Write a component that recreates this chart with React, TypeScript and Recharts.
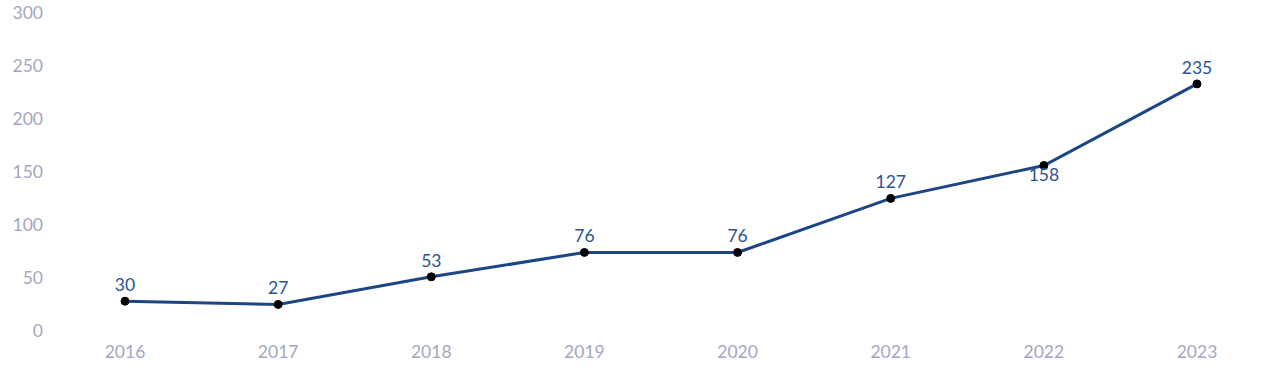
import React from "react";
import { LineChart, Line, XAxis, YAxis, LabelList } from "recharts";

const years = ["2016", "2017", "2018", "2019", "2020", "2021", "2022", "2023"];
const counts = [30, 27, 53, 76, 76, 127, 158, 235];
const yTicks = [0, 50, 100, 150, 200, 250, 300];

const data = years.map((year, i) => ({ year, count: counts[i] }));

const FONT = "Lato, 'Noto Sans', sans-serif";
const TICK_COLOR = "#a3a6c2";
const LINE_COLOR = "#1c4584";
const LABEL_COLOR = "#2a5493";

const YTick = ({ x, y, payload }: any) => (
  <text x={x - 10} y={y + 3.5} textAnchor="end" fontFamily={FONT} fontSize={17.5} fill={TICK_COLOR}>
    {payload.value}
  </text>
);

const XTick = ({ x, y, payload }: any) => (
  <text x={x} y={y + 23} textAnchor="middle" fontFamily={FONT} fontSize={17.5} fill={TICK_COLOR}>
    {payload.value}
  </text>
);

const ValueLabel = ({ x, y, value, index }: any) => {
  // the 2022 label sits under its point
  const below = index === 6;
  return (
    <text x={x} y={below ? y + 15 : y - 10} textAnchor="middle" fontFamily={FONT} fontSize={17.5} fill={LABEL_COLOR}>
      {value}
    </text>
  );
};

export default function App() {
  return (
    <div style={{ position: "absolute", left: 0, top: 0, background: "#fff" }}>
      <LineChart width={1280} height={382} data={data} margin={{ top: 15, right: 40, bottom: 0, left: 0 }}>
        <XAxis
          dataKey="year"
          axisLine={false}
          tickLine={false}
          tickSize={0}
          height={49}
          padding={{ left: 70, right: 43 }}
          tick={<XTick />}
          interval={0}
        />
        <YAxis
          domain={[0, 300]}
          ticks={yTicks}
          axisLine={false}
          tickLine={false}
          tickSize={0}
          width={55}
          tick={<YTick />}
        />
        <Line
          type="linear"
          dataKey="count"
          stroke={LINE_COLOR}
          strokeWidth={3}
          dot={{ r: 4, fill: "#000", stroke: "#000", strokeWidth: 1 }}
          isAnimationActive={false}
        >
          <LabelList dataKey="count" content={<ValueLabel />} />
        </Line>
      </LineChart>
    </div>
  );
}
